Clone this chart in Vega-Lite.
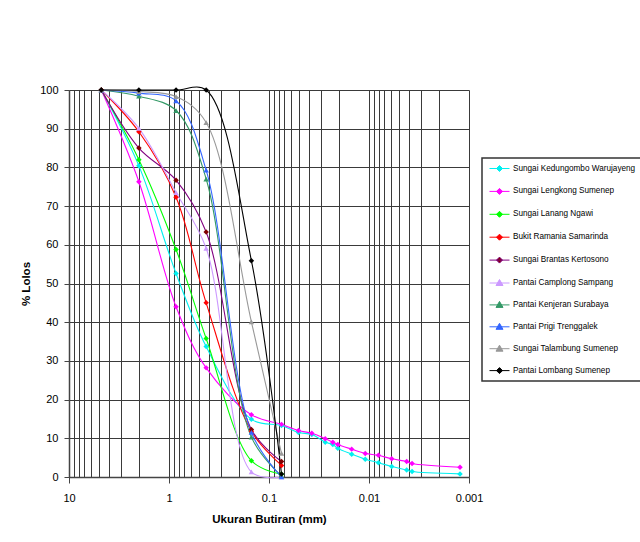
{
  "$schema": "https://vega.github.io/schema/vega-lite/v6.json",
  "width": 400,
  "height": 387,
  "autosize": {"type": "none"},
  "padding": {"left": 69, "top": 90, "right": 171, "bottom": 65},
  "background": "white",
  "config": {
    "font": "Liberation Sans",
    "view": {"stroke": null}
  },
  "data": {
    "values": [
      {"series": "Sungai Kedungombo Warujayeng", "d": 4.75, "p": 100},
      {"series": "Sungai Kedungombo Warujayeng", "d": 2.0, "p": 80.4},
      {"series": "Sungai Kedungombo Warujayeng", "d": 0.85, "p": 52.6},
      {"series": "Sungai Kedungombo Warujayeng", "d": 0.425, "p": 33.7},
      {"series": "Sungai Kedungombo Warujayeng", "d": 0.15, "p": 14.9},
      {"series": "Sungai Kedungombo Warujayeng", "d": 0.075, "p": 13.3},
      {"series": "Sungai Kedungombo Warujayeng", "d": 0.0507, "p": 11.5},
      {"series": "Sungai Kedungombo Warujayeng", "d": 0.0373, "p": 11.0},
      {"series": "Sungai Kedungombo Warujayeng", "d": 0.0274, "p": 9.0},
      {"series": "Sungai Kedungombo Warujayeng", "d": 0.023, "p": 8.4},
      {"series": "Sungai Kedungombo Warujayeng", "d": 0.0205, "p": 7.4},
      {"series": "Sungai Kedungombo Warujayeng", "d": 0.0149, "p": 5.9},
      {"series": "Sungai Kedungombo Warujayeng", "d": 0.0109, "p": 4.6},
      {"series": "Sungai Kedungombo Warujayeng", "d": 0.00805, "p": 3.7},
      {"series": "Sungai Kedungombo Warujayeng", "d": 0.00593, "p": 2.7},
      {"series": "Sungai Kedungombo Warujayeng", "d": 0.0042, "p": 1.8},
      {"series": "Sungai Kedungombo Warujayeng", "d": 0.00371, "p": 1.4},
      {"series": "Sungai Kedungombo Warujayeng", "d": 0.00123, "p": 0.8},
      {"series": "Sungai Lengkong Sumenep", "d": 4.75, "p": 100},
      {"series": "Sungai Lengkong Sumenep", "d": 2.0, "p": 76.3},
      {"series": "Sungai Lengkong Sumenep", "d": 0.85, "p": 44.0},
      {"series": "Sungai Lengkong Sumenep", "d": 0.425, "p": 28.2},
      {"series": "Sungai Lengkong Sumenep", "d": 0.15, "p": 16.1},
      {"series": "Sungai Lengkong Sumenep", "d": 0.075, "p": 13.6},
      {"series": "Sungai Lengkong Sumenep", "d": 0.0507, "p": 12.0},
      {"series": "Sungai Lengkong Sumenep", "d": 0.0373, "p": 11.3},
      {"series": "Sungai Lengkong Sumenep", "d": 0.0274, "p": 9.9},
      {"series": "Sungai Lengkong Sumenep", "d": 0.023, "p": 9.0},
      {"series": "Sungai Lengkong Sumenep", "d": 0.0205, "p": 8.4},
      {"series": "Sungai Lengkong Sumenep", "d": 0.0149, "p": 7.2},
      {"series": "Sungai Lengkong Sumenep", "d": 0.0109, "p": 6.1},
      {"series": "Sungai Lengkong Sumenep", "d": 0.00805, "p": 5.6},
      {"series": "Sungai Lengkong Sumenep", "d": 0.00593, "p": 4.7},
      {"series": "Sungai Lengkong Sumenep", "d": 0.0042, "p": 4.0},
      {"series": "Sungai Lengkong Sumenep", "d": 0.00371, "p": 3.5},
      {"series": "Sungai Lengkong Sumenep", "d": 0.00123, "p": 2.5},
      {"series": "Sungai Lanang Ngawi", "d": 4.75, "p": 100},
      {"series": "Sungai Lanang Ngawi", "d": 2.0, "p": 82},
      {"series": "Sungai Lanang Ngawi", "d": 0.85, "p": 58.8},
      {"series": "Sungai Lanang Ngawi", "d": 0.425, "p": 35.8},
      {"series": "Sungai Lanang Ngawi", "d": 0.15, "p": 4.2},
      {"series": "Sungai Lanang Ngawi", "d": 0.075, "p": 0.7},
      {"series": "Bukit Ramania Samarinda", "d": 4.75, "p": 100},
      {"series": "Bukit Ramania Samarinda", "d": 2.0, "p": 89.2},
      {"series": "Bukit Ramania Samarinda", "d": 0.85, "p": 72.3},
      {"series": "Bukit Ramania Samarinda", "d": 0.425, "p": 45.0},
      {"series": "Bukit Ramania Samarinda", "d": 0.15, "p": 11.8},
      {"series": "Bukit Ramania Samarinda", "d": 0.075, "p": 3.0},
      {"series": "Sungai Brantas Kertosono", "d": 4.75, "p": 100},
      {"series": "Sungai Brantas Kertosono", "d": 2.0, "p": 85.0},
      {"series": "Sungai Brantas Kertosono", "d": 0.85, "p": 76.7},
      {"series": "Sungai Brantas Kertosono", "d": 0.425, "p": 63.3},
      {"series": "Sungai Brantas Kertosono", "d": 0.15, "p": 12.3},
      {"series": "Sungai Brantas Kertosono", "d": 0.075, "p": 4.0},
      {"series": "Pantai Camplong Sampang", "d": 4.75, "p": 100},
      {"series": "Pantai Camplong Sampang", "d": 2.0, "p": 90.1},
      {"series": "Pantai Camplong Sampang", "d": 0.85, "p": 73.5},
      {"series": "Pantai Camplong Sampang", "d": 0.425, "p": 59.1},
      {"series": "Pantai Camplong Sampang", "d": 0.15, "p": 1.3},
      {"series": "Pantai Camplong Sampang", "d": 0.075, "p": 0},
      {"series": "Pantai Kenjeran Surabaya", "d": 4.75, "p": 100},
      {"series": "Pantai Kenjeran Surabaya", "d": 2.0, "p": 98.4},
      {"series": "Pantai Kenjeran Surabaya", "d": 0.85, "p": 94.7},
      {"series": "Pantai Kenjeran Surabaya", "d": 0.425, "p": 77.0},
      {"series": "Pantai Kenjeran Surabaya", "d": 0.15, "p": 10.3},
      {"series": "Pantai Kenjeran Surabaya", "d": 0.075, "p": 0.3},
      {"series": "Pantai Prigi Trenggalek", "d": 4.75, "p": 100},
      {"series": "Pantai Prigi Trenggalek", "d": 2.0, "p": 99.2},
      {"series": "Pantai Prigi Trenggalek", "d": 0.85, "p": 97.2},
      {"series": "Pantai Prigi Trenggalek", "d": 0.425, "p": 79.3},
      {"series": "Pantai Prigi Trenggalek", "d": 0.15, "p": 11.5},
      {"series": "Pantai Prigi Trenggalek", "d": 0.075, "p": 0},
      {"series": "Sungai Talambung Sumenep", "d": 4.75, "p": 100},
      {"series": "Sungai Talambung Sumenep", "d": 2.0, "p": 99.6},
      {"series": "Sungai Talambung Sumenep", "d": 0.85, "p": 98.3},
      {"series": "Sungai Talambung Sumenep", "d": 0.425, "p": 91.6},
      {"series": "Sungai Talambung Sumenep", "d": 0.15, "p": 40.1},
      {"series": "Sungai Talambung Sumenep", "d": 0.075, "p": 6.1},
      {"series": "Pantai Lombang Sumenep", "d": 4.75, "p": 100},
      {"series": "Pantai Lombang Sumenep", "d": 2.0, "p": 100},
      {"series": "Pantai Lombang Sumenep", "d": 0.85, "p": 100},
      {"series": "Pantai Lombang Sumenep", "d": 0.425, "p": 100},
      {"series": "Pantai Lombang Sumenep", "d": 0.15, "p": 55.9},
      {"series": "Pantai Lombang Sumenep", "d": 0.075, "p": 0.8}
    ]
  },
  "encoding": {
    "x": {
      "field": "d",
      "type": "quantitative",
      "scale": {"type": "log", "domain": [0.001, 10], "reverse": true},
      "axis": {
        "values": [0.001, 0.002, 0.003, 0.004, 0.005, 0.006, 0.007, 0.008, 0.009, 0.01, 0.02, 0.03, 0.04, 0.05, 0.06, 0.07, 0.08, 0.09, 0.1, 0.2, 0.3, 0.4, 0.5, 0.6, 0.7, 0.8, 0.9, 1, 2, 3, 4, 5, 6, 7, 8, 9, 10],
        "format": "~g",
        "labelExpr": "indexof([10, 1, 0.1, 0.01, 0.001], datum.value) >= 0 ? datum.label : ''",
        "labelOverlap": false,
        "labelFlush": false,
        "labelBound": false,
        "labelFontSize": 11,
        "labelColor": "#000",
        "labelPadding": 9,
        "grid": true,
        "gridColor": "#3a3a3a",
        "gridWidth": 1,
        "gridOpacity": 1,
        "tickSize": 6,
        "tickColor": {"condition": {"test": "indexof([10, 1, 0.1, 0.01, 0.001], datum.value) >= 0", "value": "#444"}, "value": "transparent"},
        "domainColor": "#444",
        "domainWidth": 1.5,
        "title": "Ukuran Butiran (mm)",
        "titleFontSize": 11.5,
        "titleFontWeight": "bold",
        "titleColor": "#000",
        "titlePadding": 10
      }
    },
    "y": {
      "field": "p",
      "type": "quantitative",
      "scale": {"domain": [0, 100], "nice": false},
      "axis": {
        "values": [0, 10, 20, 30, 40, 50, 60, 70, 80, 90, 100],
        "labelOverlap": false,
        "grid": true,
        "gridColor": "#3a3a3a",
        "gridWidth": 1,
        "gridOpacity": 1,
        "tickSize": 5,
        "tickColor": "#444",
        "domainColor": "#444",
        "domainWidth": 1.5,
        "labelFontSize": 11,
        "labelColor": "#000",
        "labelPadding": 6,
        "title": "% Lolos",
        "titleFontSize": 11.5,
        "titleFontWeight": "bold",
        "titleColor": "#000",
        "titlePadding": 8
      }
    }
  },
  "layer": [
    {
      "mark": {"type": "line", "interpolate": "catmull-rom", "strokeWidth": 1.1, "clip": false},
      "encoding": {
        "color": {
          "field": "series",
          "type": "nominal",
          "sort": null,
          "scale": {
            "domain": ["Sungai Kedungombo Warujayeng", "Sungai Lengkong Sumenep", "Sungai Lanang Ngawi", "Bukit Ramania Samarinda", "Sungai Brantas Kertosono", "Pantai Camplong Sampang", "Pantai Kenjeran Surabaya", "Pantai Prigi Trenggalek", "Sungai Talambung Sumenep", "Pantai Lombang Sumenep"],
            "range": ["#00f0f0", "#ff00ff", "#00ff00", "#ff0000", "#800080", "#cc99ff", "#339966", "#3366ff", "#999999", "#000000"]
          },
          "legend": {
            "orient": "none",
            "legendX": 413,
            "legendY": 68,
            "title": null,
            "strokeColor": "#333",
            "fillColor": "white",
            "padding": 5,
            "labelFontSize": 8.2,
            "labelColor": "#000",
            "labelLimit": 300,
            "symbolSize": 100,
            "symbolStrokeWidth": 1,
            "symbolOffset": 7,
            "labelOffset": 8,
            "rowPadding": 11.9,
            "encode": {
              "legend": {"update": {"strokeWidth": {"value": 1.5}}},
              "symbols": {
                "update": {
                  "shape": {"signal": "indexof(['Pantai Camplong Sampang','Pantai Kenjeran Surabaya','Pantai Prigi Trenggalek','Sungai Talambung Sumenep'], datum.value) >= 0 ? 'M-2,0H2M0,-0.7L0.7,0.5L-0.7,0.5Z' : 'M-2,0H2M0,-0.6L0.6,0L0,0.6L-0.6,0Z'"},
                  "fill": {"signal": "['#00f0f0','#ff00ff','#00ff00','#ff0000','#800000','#cc99ff','#339966','#3366ff','#999999','#000000'][indexof(['Sungai Kedungombo Warujayeng','Sungai Lengkong Sumenep','Sungai Lanang Ngawi','Bukit Ramania Samarinda','Sungai Brantas Kertosono','Pantai Camplong Sampang','Pantai Kenjeran Surabaya','Pantai Prigi Trenggalek','Sungai Talambung Sumenep','Pantai Lombang Sumenep'], datum.value)]"},
                  "fillOpacity": {"value": 1}
                }
              }
            }
          }
        }
      }
    },
    {
      "mark": {"type": "point", "filled": true, "opacity": 1, "size": 30, "clip": false},
      "encoding": {
        "color": {
          "field": "series",
          "type": "nominal",
          "scale": {
            "domain": ["Sungai Kedungombo Warujayeng", "Sungai Lengkong Sumenep", "Sungai Lanang Ngawi", "Bukit Ramania Samarinda", "Sungai Brantas Kertosono", "Pantai Camplong Sampang", "Pantai Kenjeran Surabaya", "Pantai Prigi Trenggalek", "Sungai Talambung Sumenep", "Pantai Lombang Sumenep"],
            "range": ["#00f0f0", "#ff00ff", "#00ff00", "#ff0000", "#800000", "#cc99ff", "#339966", "#3366ff", "#999999", "#000000"]
          },
          "legend": null
        },
        "shape": {
          "field": "series",
          "type": "nominal",
          "scale": {
            "domain": ["Sungai Kedungombo Warujayeng", "Sungai Lengkong Sumenep", "Sungai Lanang Ngawi", "Bukit Ramania Samarinda", "Sungai Brantas Kertosono", "Pantai Camplong Sampang", "Pantai Kenjeran Surabaya", "Pantai Prigi Trenggalek", "Sungai Talambung Sumenep", "Pantai Lombang Sumenep"],
            "range": ["diamond", "diamond", "diamond", "diamond", "diamond", "triangle-up", "triangle-up", "triangle-up", "triangle-up", "diamond"]
          },
          "legend": null
        }
      }
    }
  ],
  "resolve": {"scale": {"color": "independent"}}
}
